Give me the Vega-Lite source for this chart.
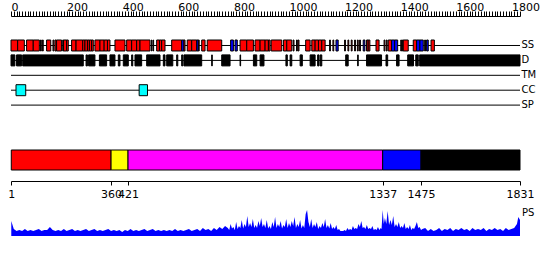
{
 "$schema": "https://vega.github.io/schema/vega-lite/v6.json",
 "autosize": {"type": "none"},
 "padding": {"left": 11, "top": 16, "right": 30, "bottom": 24},
 "width": 509,
 "height": 220,
 "background": "white",
 "config": {"view": {"stroke": null}, "font": "DejaVu Sans", "axis": {"grid": false}},
 "datasets": {
  "lines": [{"track":"SS","s":0,"e":1831},{"track":"D","s":0,"e":1831},{"track":"TM","s":0,"e":1831},{"track":"CC","s":0,"e":1831},{"track":"SP","s":0,"e":1831}],
  "features": [
   {"track":"SS","type":"H","s":0,"e":24},{"track":"SS","type":"H","s":24,"e":48},{"track":"SS","type":"H","s":56,"e":80},{"track":"SS","type":"H","s":80,"e":102},
   {"track":"SS","type":"H","s":106,"e":109},{"track":"SS","type":"H","s":113,"e":116},{"track":"SS","type":"H","s":128,"e":143},{"track":"SS","type":"H","s":151,"e":154},
   {"track":"SS","type":"H","s":158,"e":163},{"track":"SS","type":"H","s":164,"e":182},{"track":"SS","type":"H","s":186,"e":189},{"track":"SS","type":"H","s":189,"e":200},
   {"track":"SS","type":"H","s":200,"e":206},{"track":"SS","type":"H","s":218,"e":234},{"track":"SS","type":"H","s":234,"e":258},{"track":"SS","type":"H","s":258,"e":266},
   {"track":"SS","type":"H","s":266,"e":275},{"track":"SS","type":"H","s":275,"e":282},{"track":"SS","type":"H","s":282,"e":290},{"track":"SS","type":"H","s":290,"e":296},
   {"track":"SS","type":"H","s":302,"e":320},{"track":"SS","type":"H","s":320,"e":335},{"track":"SS","type":"H","s":335,"e":347},{"track":"SS","type":"H","s":347,"e":356},
   {"track":"SS","type":"H","s":374,"e":410},{"track":"SS","type":"H","s":416,"e":434},{"track":"SS","type":"H","s":434,"e":452},{"track":"SS","type":"H","s":452,"e":464},
   {"track":"SS","type":"H","s":464,"e":500},{"track":"SS","type":"H","s":505,"e":507},{"track":"SS","type":"H","s":511,"e":513},{"track":"SS","type":"H","s":524,"e":534},
   {"track":"SS","type":"H","s":534,"e":542},{"track":"SS","type":"H","s":542,"e":554},{"track":"SS","type":"H","s":578,"e":614},{"track":"SS","type":"E","s":614,"e":622},
   {"track":"SS","type":"H","s":622,"e":626},{"track":"SS","type":"H","s":634,"e":650},{"track":"SS","type":"H","s":650,"e":668},{"track":"SS","type":"E","s":668,"e":674},
   {"track":"SS","type":"H","s":674,"e":677},{"track":"SS","type":"H","s":686,"e":698},{"track":"SS","type":"H","s":706,"e":758},{"track":"SS","type":"E","s":790,"e":800},
   {"track":"SS","type":"E","s":806,"e":814},{"track":"SS","type":"H","s":824,"e":848},{"track":"SS","type":"H","s":848,"e":872},{"track":"SS","type":"H","s":878,"e":896},
   {"track":"SS","type":"H","s":896,"e":914},{"track":"SS","type":"H","s":914,"e":926},{"track":"SS","type":"H","s":926,"e":932},{"track":"SS","type":"H","s":936,"e":974},
   {"track":"SS","type":"H","s":980,"e":992},{"track":"SS","type":"H","s":992,"e":1010},{"track":"SS","type":"H","s":1015,"e":1018},{"track":"SS","type":"H","s":1027,"e":1030},
   {"track":"SS","type":"H","s":1033,"e":1036},{"track":"SS","type":"H","s":1060,"e":1076},{"track":"SS","type":"H","s":1082,"e":1094},{"track":"SS","type":"H","s":1094,"e":1106},
   {"track":"SS","type":"H","s":1106,"e":1118},{"track":"SS","type":"H","s":1118,"e":1130},{"track":"SS","type":"H","s":1146,"e":1149},{"track":"SS","type":"H","s":1158,"e":1161},
   {"track":"SS","type":"E","s":1169,"e":1177},{"track":"SS","type":"H","s":1200,"e":1203},{"track":"SS","type":"H","s":1212,"e":1215},{"track":"SS","type":"H","s":1224,"e":1227},
   {"track":"SS","type":"H","s":1236,"e":1239},{"track":"SS","type":"H","s":1246,"e":1249},{"track":"SS","type":"H","s":1254,"e":1257},{"track":"SS","type":"E","s":1267,"e":1273},
   {"track":"SS","type":"H","s":1279,"e":1285},{"track":"SS","type":"H","s":1285,"e":1291},{"track":"SS","type":"H","s":1313,"e":1324},{"track":"SS","type":"H","s":1342,"e":1345},
   {"track":"SS","type":"H","s":1350,"e":1353},{"track":"SS","type":"H","s":1357,"e":1369},{"track":"SS","type":"E","s":1369,"e":1380},{"track":"SS","type":"E","s":1380,"e":1391},
   {"track":"SS","type":"H","s":1402,"e":1405},{"track":"SS","type":"H","s":1408,"e":1411},{"track":"SS","type":"H","s":1411,"e":1429},{"track":"SS","type":"H","s":1447,"e":1459},
   {"track":"SS","type":"E","s":1459,"e":1471},{"track":"SS","type":"E","s":1471,"e":1483},{"track":"SS","type":"H","s":1488,"e":1491},{"track":"SS","type":"E","s":1495,"e":1501},
   {"track":"SS","type":"H","s":1511,"e":1523},
   {"track":"D","type":"D","s":0,"e":14},{"track":"D","type":"D","s":20,"e":38},{"track":"D","type":"D","s":42,"e":260},{"track":"D","type":"D","s":270,"e":275},
   {"track":"D","type":"D","s":279,"e":302},{"track":"D","type":"D","s":318,"e":344},{"track":"D","type":"D","s":356,"e":374},{"track":"D","type":"D","s":386,"e":392},
   {"track":"D","type":"D","s":404,"e":422},{"track":"D","type":"D","s":434,"e":438},{"track":"D","type":"D","s":446,"e":470},{"track":"D","type":"D","s":488,"e":536},
   {"track":"D","type":"D","s":548,"e":554},{"track":"D","type":"D","s":560,"e":582},{"track":"D","type":"D","s":596,"e":600},{"track":"D","type":"D","s":614,"e":618},
   {"track":"D","type":"D","s":622,"e":686},{"track":"D","type":"D","s":722,"e":724},{"track":"D","type":"D","s":758,"e":788},{"track":"D","type":"D","s":824,"e":826},
   {"track":"D","type":"D","s":872,"e":884},{"track":"D","type":"D","s":896,"e":910},{"track":"D","type":"D","s":989,"e":994},{"track":"D","type":"D","s":1004,"e":1010},
   {"track":"D","type":"D","s":1040,"e":1048},{"track":"D","type":"D","s":1076,"e":1094},{"track":"D","type":"D","s":1103,"e":1108},{"track":"D","type":"D","s":1112,"e":1118},
   {"track":"D","type":"D","s":1204,"e":1213},{"track":"D","type":"D","s":1247,"e":1249},{"track":"D","type":"D","s":1279,"e":1333},{"track":"D","type":"D","s":1349,"e":1355},
   {"track":"D","type":"D","s":1387,"e":1396},{"track":"D","type":"D","s":1427,"e":1448},{"track":"D","type":"D","s":1456,"e":1465},{"track":"D","type":"D","s":1470,"e":1831},
   {"track":"CC","type":"CC","s":18,"e":53},{"track":"CC","type":"CC","s":461,"e":491}
  ],
  "domains": [
   {"lane":"domain","name":"1-360","s":1,"e":360},
   {"lane":"domain","name":"360-421","s":360,"e":421},
   {"lane":"domain","name":"421-1337","s":421,"e":1337},
   {"lane":"domain","name":"1337-1475","s":1337,"e":1475},
   {"lane":"domain","name":"1475-1831","s":1475,"e":1831}
  ],
  "ps": [
   {"r":1,"v":0.5},{"r":10,"v":0.23},{"r":20,"v":0.17},{"r":30,"v":0.2},{"r":40,"v":0.17},{"r":50,"v":0.23},{"r":60,"v":0.17},{"r":70,"v":0.2},{"r":80,"v":0.17},{"r":90,"v":0.2},
   {"r":100,"v":0.23},{"r":110,"v":0.17},{"r":120,"v":0.2},{"r":130,"v":0.2},{"r":140,"v":0.3},{"r":150,"v":0.2},{"r":160,"v":0.17},{"r":170,"v":0.2},{"r":180,"v":0.17},{"r":190,"v":0.23},
   {"r":200,"v":0.17},{"r":210,"v":0.2},{"r":220,"v":0.23},{"r":230,"v":0.17},{"r":240,"v":0.2},{"r":250,"v":0.17},{"r":260,"v":0.2},{"r":270,"v":0.23},{"r":280,"v":0.17},{"r":290,"v":0.2},
   {"r":300,"v":0.23},{"r":310,"v":0.17},{"r":320,"v":0.2},{"r":330,"v":0.17},{"r":340,"v":0.2},{"r":350,"v":0.23},{"r":360,"v":0.17},{"r":370,"v":0.2},{"r":380,"v":0.17},{"r":390,"v":0.2},
   {"r":400,"v":0.13},{"r":410,"v":0.2},{"r":420,"v":0.17},{"r":430,"v":0.23},{"r":440,"v":0.17},{"r":450,"v":0.2},{"r":460,"v":0.17},{"r":470,"v":0.2},{"r":480,"v":0.23},{"r":490,"v":0.17},
   {"r":500,"v":0.2},{"r":510,"v":0.23},{"r":520,"v":0.17},{"r":530,"v":0.2},{"r":540,"v":0.17},{"r":550,"v":0.2},{"r":560,"v":0.17},{"r":570,"v":0.2},{"r":580,"v":0.17},{"r":590,"v":0.23},
   {"r":600,"v":0.17},{"r":610,"v":0.2},{"r":620,"v":0.17},{"r":630,"v":0.2},{"r":640,"v":0.23},{"r":650,"v":0.17},{"r":660,"v":0.2},{"r":670,"v":0.23},{"r":680,"v":0.17},{"r":690,"v":0.27},
   {"r":700,"v":0.2},{"r":710,"v":0.23},{"r":720,"v":0.17},{"r":730,"v":0.27},{"r":740,"v":0.2},{"r":750,"v":0.3},{"r":760,"v":0.23},{"r":770,"v":0.33},{"r":780,"v":0.27},{"r":790,"v":0.4},
   {"r":800,"v":0.3},{"r":810,"v":0.47},{"r":820,"v":0.33},{"r":830,"v":0.53},{"r":840,"v":0.4},{"r":850,"v":0.67},{"r":860,"v":0.43},{"r":870,"v":0.57},{"r":880,"v":0.37},{"r":890,"v":0.5},
   {"r":900,"v":0.6},{"r":910,"v":0.4},{"r":920,"v":0.53},{"r":930,"v":0.33},{"r":940,"v":0.47},{"r":950,"v":0.63},{"r":960,"v":0.4},{"r":970,"v":0.5},{"r":980,"v":0.37},{"r":990,"v":0.57},
   {"r":1000,"v":0.43},{"r":1010,"v":0.5},{"r":1020,"v":0.63},{"r":1030,"v":0.4},{"r":1040,"v":0.53},{"r":1050,"v":0.37},{"r":1060,"v":0.73},{"r":1065,"v":0.87},{"r":1070,"v":0.47},{"r":1080,"v":0.57},
   {"r":1090,"v":0.4},{"r":1100,"v":0.47},{"r":1110,"v":0.33},{"r":1120,"v":0.43},{"r":1130,"v":0.57},{"r":1140,"v":0.37},{"r":1150,"v":0.43},{"r":1160,"v":0.3},{"r":1170,"v":0.37},{"r":1180,"v":0.23},
   {"r":1190,"v":0.17},{"r":1200,"v":0.2},{"r":1210,"v":0.27},{"r":1220,"v":0.23},{"r":1230,"v":0.33},{"r":1240,"v":0.27},{"r":1250,"v":0.4},{"r":1260,"v":0.5},{"r":1270,"v":0.3},{"r":1280,"v":0.37},
   {"r":1290,"v":0.27},{"r":1300,"v":0.33},{"r":1310,"v":0.23},{"r":1320,"v":0.3},{"r":1330,"v":0.27},{"r":1337,"v":0.87},{"r":1345,"v":0.6},{"r":1355,"v":0.83},{"r":1365,"v":0.53},{"r":1375,"v":0.67},
   {"r":1385,"v":0.4},{"r":1395,"v":0.47},{"r":1405,"v":0.33},{"r":1415,"v":0.43},{"r":1425,"v":0.3},{"r":1435,"v":0.37},{"r":1445,"v":0.27},{"r":1455,"v":0.33},{"r":1460,"v":0.47},{"r":1470,"v":0.3},
   {"r":1480,"v":0.23},{"r":1490,"v":0.27},{"r":1500,"v":0.17},{"r":1510,"v":0.23},{"r":1520,"v":0.17},{"r":1530,"v":0.2},{"r":1540,"v":0.27},{"r":1550,"v":0.17},{"r":1560,"v":0.23},{"r":1570,"v":0.2},
   {"r":1580,"v":0.27},{"r":1590,"v":0.17},{"r":1600,"v":0.23},{"r":1610,"v":0.2},{"r":1620,"v":0.27},{"r":1630,"v":0.2},{"r":1640,"v":0.23},{"r":1650,"v":0.17},{"r":1660,"v":0.27},{"r":1670,"v":0.2},
   {"r":1680,"v":0.23},{"r":1690,"v":0.2},{"r":1700,"v":0.27},{"r":1710,"v":0.17},{"r":1720,"v":0.23},{"r":1730,"v":0.2},{"r":1740,"v":0.27},{"r":1750,"v":0.2},{"r":1760,"v":0.23},{"r":1770,"v":0.17},
   {"r":1780,"v":0.27},{"r":1790,"v":0.2},{"r":1800,"v":0.23},{"r":1810,"v":0.27},{"r":1820,"v":0.4},{"r":1825,"v":0.63},{"r":1831,"v":0.53},
   {"r":785,"v":0.2},{"r":795,"v":0.25},{"r":805,"v":0.2},{"r":815,"v":0.23},{"r":825,"v":0.27},{"r":835,"v":0.25},{"r":845,"v":0.3},{"r":855,"v":0.3},{"r":865,"v":0.3},{"r":875,"v":0.27},
   {"r":885,"v":0.27},{"r":895,"v":0.33},{"r":905,"v":0.3},{"r":915,"v":0.27},{"r":925,"v":0.25},{"r":935,"v":0.23},{"r":945,"v":0.3},{"r":955,"v":0.27},{"r":965,"v":0.3},{"r":975,"v":0.25},
   {"r":985,"v":0.3},{"r":995,"v":0.27},{"r":1005,"v":0.3},{"r":1015,"v":0.33},{"r":1025,"v":0.27},{"r":1035,"v":0.3},{"r":1045,"v":0.25},{"r":1055,"v":0.27},{"r":1075,"v":0.3},{"r":1085,"v":0.27},
   {"r":1095,"v":0.3},{"r":1105,"v":0.23},{"r":1115,"v":0.27},{"r":1125,"v":0.3},{"r":1135,"v":0.27},{"r":1145,"v":0.25},{"r":1155,"v":0.23},{"r":1165,"v":0.23},{"r":1175,"v":0.2},{"r":1185,"v":0.17},
   {"r":1195,"v":0.17},{"r":1205,"v":0.17},{"r":1215,"v":0.2},{"r":1225,"v":0.2},{"r":1235,"v":0.23},{"r":1245,"v":0.23},{"r":1255,"v":0.3},{"r":1265,"v":0.27},{"r":1275,"v":0.23},{"r":1285,"v":0.23},
   {"r":1295,"v":0.23},{"r":1305,"v":0.2},{"r":1315,"v":0.2},{"r":1325,"v":0.2},{"r":1333,"v":0.23},{"r":1341,"v":0.4},{"r":1350,"v":0.4},{"r":1360,"v":0.37},{"r":1370,"v":0.37},{"r":1380,"v":0.3},
   {"r":1390,"v":0.3},{"r":1400,"v":0.27},{"r":1410,"v":0.27},{"r":1420,"v":0.23},{"r":1430,"v":0.23},{"r":1440,"v":0.2},{"r":1450,"v":0.23},{"r":1465,"v":0.27},{"r":1475,"v":0.2}
  ]
 },
 "resolve": {"scale": {"y": "independent", "color": "independent"}, "axis": {"x": "independent", "y": "independent"}},
 "layer": [
  {
   "data": {"name": "lines"},
   "mark": {"type": "rule", "color": "black", "strokeWidth": 1},
   "encoding": {
    "x": {"field": "s", "type": "quantitative", "scale": {"domain": [0, 1831], "nice": false, "zero": false},
     "axis": {"orient": "top", "title": null, "grid": false,
      "values": [0,10,20,30,40,50,60,70,80,90,100,110,120,130,140,150,160,170,180,190,200,210,220,230,240,250,260,270,280,290,300,310,320,330,340,350,360,370,380,390,400,410,420,430,440,450,460,470,480,490,500,510,520,530,540,550,560,570,580,590,600,610,620,630,640,650,660,670,680,690,700,710,720,730,740,750,760,770,780,790,800,810,820,830,840,850,860,870,880,890,900,910,920,930,940,950,960,970,980,990,1000,1010,1020,1030,1040,1050,1060,1070,1080,1090,1100,1110,1120,1130,1140,1150,1160,1170,1180,1190,1200,1210,1220,1230,1240,1250,1260,1270,1280,1290,1300,1310,1320,1330,1340,1350,1360,1370,1380,1390,1400,1410,1420,1430,1440,1450,1460,1470,1480,1490,1500,1510,1520,1530,1540,1550,1560,1570,1580,1590,1600,1610,1620,1630,1640,1650,1660,1670,1680,1690,1700,1710,1720,1730,1740,1750,1760,1770,1780,1790,1800,1810,1820,1830],
      "labelExpr": "datum.value % 200 === 0 ? format(datum.value, 'd') : ''",
      "labelAlign": "left", "labelBaseline": "alphabetic", "labelPadding": 1, "tickSize": 5,
      "tickColor": "black", "domainColor": "black", "labelColor": "black", "labelFont": "DejaVu Sans", "labelFontSize": 11,
      "labelFlush": false, "labelOverlap": false, "labelBound": false}},
    "x2": {"field": "e"},
    "y": {"field": "track", "type": "nominal",
     "scale": {"type": "band", "domain": ["SS","D","TM","CC","SP"], "range": [24, 94.6], "paddingInner": 0.262, "paddingOuter": 0},
     "axis": {"orient": "right", "title": null, "ticks": false, "tickSize": 0, "domain": false, "labelPadding": 1,
      "labelFont": "DejaVu Sans", "labelFontSize": 10, "labelColor": "black", "labelAlign": "left", "labelBaseline": "middle"}}
   }
  },
  {
   "data": {"name": "features"},
   "mark": {"type": "rect", "stroke": "black", "strokeWidth": 1},
   "encoding": {
    "x": {"field": "s", "type": "quantitative", "axis": null},
    "x2": {"field": "e"},
    "y": {"field": "track", "type": "nominal",
     "scale": {"type": "band", "domain": ["SS","D","TM","CC","SP"], "range": [24, 94.6], "paddingInner": 0.262, "paddingOuter": 0},
     "axis": null},
    "color": {"field": "type", "type": "nominal", "scale": {"domain": ["H","E","D","CC"], "range": ["#ff0000","#0000ff","#000000","#00ffff"]}, "legend": null}
   }
  },
  {
   "data": {"name": "domains"},
   "mark": {"type": "rect", "stroke": "black", "strokeWidth": 1},
   "encoding": {
    "x": {"field": "s", "type": "quantitative",
     "axis": {"orient": "bottom", "offset": -55, "title": null, "grid": false, "values": [1,360,421,1337,1475,1831], "format": "d",
      "tickSize": 4, "labelPadding": 3, "tickColor": "black", "domainColor": "black", "labelColor": "black",
      "labelFont": "DejaVu Sans", "labelFontSize": 11, "labelFlush": false, "labelOverlap": false, "labelBound": false}},
    "x2": {"field": "e"},
    "y": {"field": "lane", "type": "nominal", "scale": {"type": "band", "domain": ["domain"], "range": [134, 154], "paddingInner": 0, "paddingOuter": 0}, "axis": null},
    "color": {"field": "name", "type": "nominal",
     "scale": {"domain": ["1-360","360-421","421-1337","1337-1475","1475-1831"], "range": ["#ff0000","#ffff00","#ff00ff","#0000ff","#000000"]}, "legend": null}
   }
  },
  {
   "data": {"name": "ps"},
   "mark": {"type": "area", "color": "#0000ff", "opacity": 1},
   "encoding": {
    "x": {"field": "r", "type": "quantitative", "axis": null},
    "y": {"field": "v", "type": "quantitative", "scale": {"domain": [0, 7.3333], "nice": false, "zero": true}, "axis": null}
   }
  },
  {
   "data": {"values": [{"label": "PS"}]},
   "mark": {"type": "text", "align": "left", "baseline": "middle", "dx": 2, "font": "DejaVu Sans", "fontSize": 10, "color": "black"},
   "encoding": {
    "x": {"datum": 1831, "type": "quantitative", "axis": null},
    "y": {"datum": 0.78, "type": "quantitative", "scale": {"domain": [0, 7.3333], "nice": false}, "axis": null},
    "text": {"field": "label"}
   }
  }
 ]
}
